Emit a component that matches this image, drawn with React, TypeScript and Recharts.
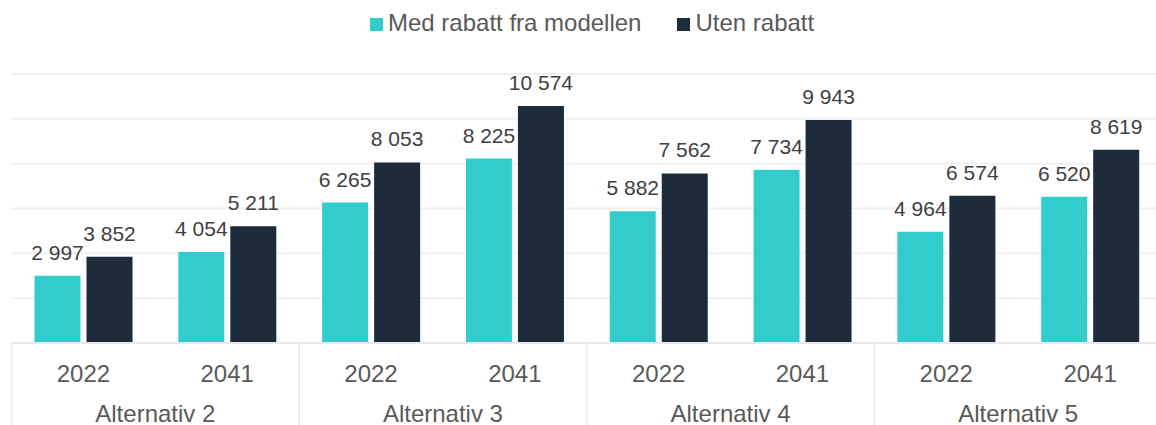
import React from "react"
import { BarChart, Bar, XAxis, YAxis, CartesianGrid, Legend, LabelList } from "recharts"

const years = ["2022", "2041", "2022", "2041", "2022", "2041", "2022", "2041"]
const alternatives = ["Alternativ 2", "Alternativ 3", "Alternativ 4", "Alternativ 5"]
const medRabatt = [2997, 4054, 6265, 8225, 5882, 7734, 4964, 6520]
const utenRabatt = [3852, 5211, 8053, 10574, 7562, 9943, 6574, 8619]
const yTicks = [0, 2000, 4000, 6000, 8000, 10000, 12000]

const data = years.map((year, i) => ({
  id: `${alternatives[Math.floor(i / 2)]}-${year}`,
  year,
  alt: alternatives[Math.floor(i / 2)],
  med: medRabatt[i],
  uten: utenRabatt[i],
}))

const TEAL = "#33CCCC"
const NAVY = "#1D2B3A"
const FONT = "Arial, 'Liberation Sans', sans-serif"

const CHART_W = 1162
const MARGIN_LEFT = 11.5
const BAND = (CHART_W - MARGIN_LEFT) / data.length

const fmt = (v: any) => String(v).replace(/\B(?=(\d{3})+(?!\d))/g, " ")

function GroupTick(props: any) {
  const { x, y, index } = props
  const row = data[index]
  if (!row) return null
  const first = index % 2 === 0
  const last = index === data.length - 1
  return (
    <g>
      <text x={x} y={y + 39} textAnchor="middle" fill="#595959" fontSize={24} fontFamily={FONT}>
        {row.year}
      </text>
      {first && (
        <>
          <line x1={x - BAND / 2} x2={x - BAND / 2} y1={y} y2={y + 90} stroke="#ececec" strokeWidth={2} />
          <text x={x + BAND / 2} y={y + 79} textAnchor="middle" fill="#595959" fontSize={24} fontFamily={FONT}>
            {row.alt}
          </text>
        </>
      )}
      {last && <line x1={x + BAND / 2} x2={x + BAND / 2} y1={y} y2={y + 90} stroke="#ececec" strokeWidth={2} />}
    </g>
  )
}

function LegendContent() {
  const item = (color: string, label: string, gap: number) => (
    <div style={{ display: "flex", alignItems: "center", marginRight: gap }}>
      <div style={{ width: 13, height: 13, background: color, marginRight: 5, marginTop: 2 }} />
      <span style={{ fontSize: 24, lineHeight: "24px", color: "#595959", fontFamily: FONT }}>{label}</span>
    </div>
  )
  return (
    <div style={{ height: 74, display: "flex", alignItems: "flex-start", paddingLeft: 370, paddingTop: 11, boxSizing: "border-box" }}>
      {item(TEAL, "Med rabatt fra modellen", 36)}
      {item(NAVY, "Uten rabatt", 0)}
    </div>
  )
}

export default function App() {
  return (
    <div style={{ position: "fixed", left: 0, top: 0, width: 1156, height: 425, overflow: "hidden", background: "#fff" }}>
      <BarChart
        width={CHART_W}
        height={425}
        data={data}
        barGap={6}
        margin={{ top: 0, right: 0, left: MARGIN_LEFT, bottom: 0 }}
      >
        <Legend verticalAlign="top" content={<LegendContent />} wrapperStyle={{ left: 0, top: 0, width: 1156 }} />
        <CartesianGrid vertical={false} stroke="#f0f0f0" strokeWidth={2} />
        <YAxis hide domain={[0, 12000]} ticks={yTicks} />
        <XAxis
          dataKey="id"
          height={82}
          interval={0}
          tickSize={0}
          tickMargin={0}
          axisLine={{ stroke: "#e8e8e8", strokeWidth: 2 }}
          tickLine={false}
          tick={<GroupTick />}
        />
        <Bar dataKey="med" name="Med rabatt fra modellen" fill={TEAL} barSize={46} isAnimationActive={false}>
          <LabelList dataKey="med" position="top" offset={16} formatter={fmt} fill="#404040" fontSize={21} fontFamily={FONT} />
        </Bar>
        <Bar dataKey="uten" name="Uten rabatt" fill={NAVY} barSize={46} isAnimationActive={false}>
          <LabelList dataKey="uten" position="top" offset={16} formatter={fmt} fill="#404040" fontSize={21} fontFamily={FONT} />
        </Bar>
      </BarChart>
    </div>
  )
}
